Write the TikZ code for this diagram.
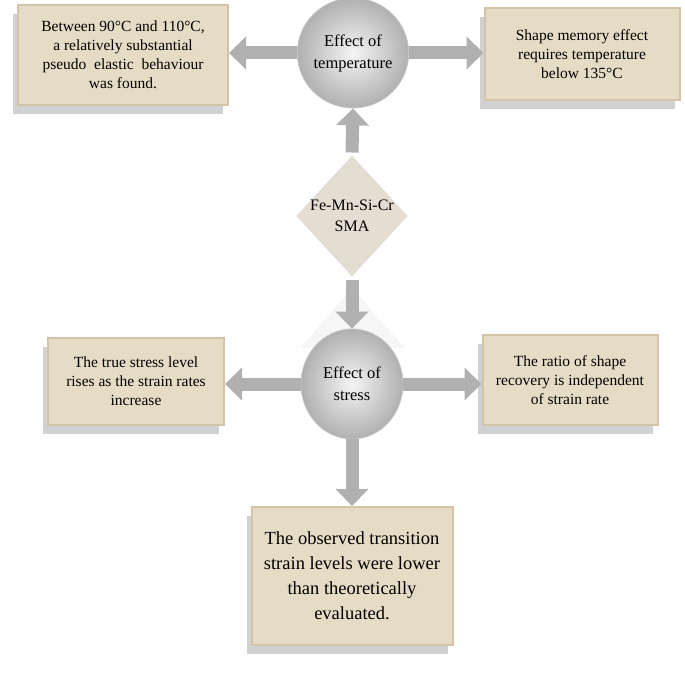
\documentclass[tikz,border=0pt]{standalone}
\usepackage{fontspec}
\setmainfont{Liberation Serif}
\usetikzlibrary{shapes.geometric,arrows.meta,shadows}
\definecolor{beige}{HTML}{E6DCC6}
\definecolor{beigeedge}{HTML}{D2C4A6}
\definecolor{stone}{HTML}{E4DDD2}
\tikzset{
  infobox/.style={rectangle, fill=beige, draw=beigeedge, line width=2pt,
    align=center, inner sep=0pt, font=\fontsize{15.5}{19}\selectfont,
    drop shadow={shadow xshift=-5pt, shadow yshift=-9pt, opacity=0.3, fill=black!60}},
  ballnode/.style={ellipse, shading=radial, inner color=gray!8, outer color=gray!62,
    draw=gray!45, line width=0.8pt, inner sep=0pt, align=center,
    font=\fontsize{16.5}{22}\selectfont},
  flow/.style={line width=13pt, draw=gray!62, -{Triangle[width=32pt,length=17pt]}},
}
\begin{document}
\begin{tikzpicture}[x=1pt,y=-1pt]
\useasboundingbox (0,0) rectangle (685,674);
% faint reflection behind lower arrow
\fill[gray!7] (300,348) -- (352,288) -- (405,348) -- cycle;
% nodes
\node[infobox, minimum width=210pt, minimum height=100pt] (tl) at (123,55)
  {Between 90°C and 110°C,\\a relatively substantial\\pseudo\ \ elastic\ \ behaviour\\was found.};
\node[infobox, minimum width=195pt, minimum height=92pt] (tr) at (582,54)
  {Shape memory effect\\requires temperature\\below 135°C};
\node[ballnode, minimum width=104pt, minimum height=110pt] (temp) at (353,53)
  {Effect of\\temperature};
\node[diamond, fill=stone, draw=white, line width=2pt, minimum width=114pt, minimum height=125pt,
  inner sep=0pt, align=center, font=\fontsize{16}{21}\selectfont] (sma) at (352,216)
  {Fe-Mn-Si-Cr\\SMA};
\node[ballnode, minimum width=102pt, minimum height=110pt] (stress) at (352,384)
  {Effect of\\stress};
\node[infobox, minimum width=176pt, minimum height=87pt] (ml) at (136,381)
  {The true stress level\\rises as the strain rates\\increase};
\node[infobox, minimum width=175pt, minimum height=90pt] (mr) at (570,380)
  {The ratio of shape\\recovery is independent\\of strain rate};
\node[infobox, minimum width=201pt, minimum height=138pt, font=\fontsize{18.5}{25}\selectfont] (bot) at (352,576)
  {The observed transition\\strain levels were lower\\than theoretically\\evaluated.};
% connectors
\draw[flow] (temp.west) -- (temp.west -| tl.east);
\draw[flow] (temp.east) -- (temp.east -| tr.west);
\draw[flow] (sma.north) -- (temp.south);
\draw[flow] (sma.south) -- (stress.north);
\draw[flow] (stress.west) -- (stress.west -| ml.east);
\draw[flow] (stress.east) -- (stress.east -| mr.west);
\draw[flow] (stress.south) -- (bot.north);
\end{tikzpicture}
\end{document}
